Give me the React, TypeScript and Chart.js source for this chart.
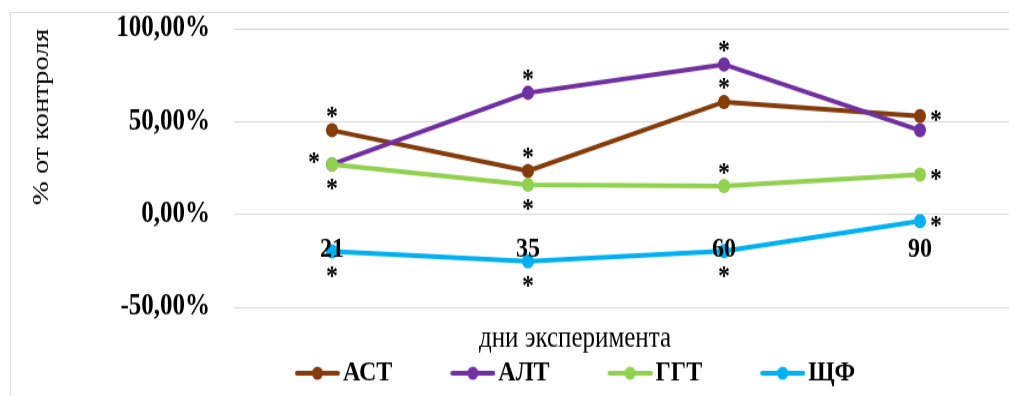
import React, { useEffect, useRef } from 'react';
import { Chart, registerables } from 'chart.js';

Chart.register(...registerables);

// Days of the experiment (category axis)
const days = ['21', '35', '60', '90'];

// Enzyme activity, % of control
const astValues = [45.3, 23.4, 60.6, 52.9];
const altValues = [27.0, 65.5, 80.8, 45.3];
const ggtValues = [27.0, 16.0, 15.3, 21.4];
const shfValues = [-20.0, -25.2, -19.8, -3.6];

const seriesNames = ['АСТ', 'АЛТ', 'ГГТ', 'ЩФ'];
const seriesColors = ['#843C0C', '#7030A0', '#92D050', '#00B0F0'];

// Where the significance mark "*" sits next to each point (null = no mark)
const astMarks = ['top', 'top', 'top', 'right'];
const altMarks = ['left', 'top', 'top', null];
const ggtMarks = ['bottom', 'bottom', 'top', 'right'];
const shfMarks = ['bottom', 'bottom', 'bottom', 'right'];

const yTicks = [-50, 0, 50, 100];
const yTitle = '% от контроля';
const xTitle = 'дни эксперимента';

const FONT = '"Liberation Serif", "Times New Roman", serif';
const CANVAS_W = 1140;
const CANVAS_H = 333;
const STRETCH_Y = 1.2;

const markSets = [astMarks, altMarks, ggtMarks, shfMarks];
const markOffsets: Record<string, [number, number]> = {
  top: [0, -15],
  bottom: [0, 17],
  right: [16, 0],
  left: [-18, -5],
};

const formatPct = (v: number) => `${v.toFixed(2).replace('.', ',')}%`;

// Legend symbol: a short line with a dot in the middle
function makeMarker(color: string) {
  const c = document.createElement('canvas');
  c.width = 54;
  c.height = 16;
  const g = c.getContext('2d')!;
  g.strokeStyle = color;
  g.lineWidth = 4;
  g.lineCap = 'round';
  g.beginPath();
  g.moveTo(11, 8);
  g.lineTo(52, 8);
  g.stroke();
  g.fillStyle = color;
  g.beginPath();
  g.arc(31.5, 8, 5.5, 0, Math.PI * 2);
  g.fill();
  return c;
}

// Draws "*" next to the points that differ significantly from control
const asteriskPlugin = {
  id: 'asterisks',
  afterDatasetsDraw(chart: any) {
    const ctx = chart.ctx as CanvasRenderingContext2D;
    ctx.save();
    ctx.font = `bold 24px ${FONT}`;
    ctx.fillStyle = '#000';
    ctx.textAlign = 'left';
    ctx.textBaseline = 'alphabetic';
    const m = ctx.measureText('*');
    const dx = (m.actualBoundingBoxRight - m.actualBoundingBoxLeft) / 2;
    const dy = (m.actualBoundingBoxDescent - m.actualBoundingBoxAscent) / 2;
    markSets.forEach((marks, di) => {
      const meta = chart.getDatasetMeta(di);
      marks.forEach((pos, i) => {
        if (!pos) return;
        const pt = meta.data[i];
        const [ox, oy] = markOffsets[pos];
        ctx.fillText('*', pt.x + ox - dx, pt.y + oy - dy);
      });
    });
    ctx.restore();
  },
};

export default function App() {
  const canvasRef = useRef<HTMLCanvasElement | null>(null);

  useEffect(() => {
    const canvas = canvasRef.current;
    if (!canvas) return;
    const markers = seriesColors.map(makeMarker);
    const values = [astValues, altValues, ggtValues, shfValues];

    const chart = new Chart(canvas, {
      type: 'line',
      data: {
        labels: days,
        datasets: values.map((data, i) => ({
          label: seriesNames[i],
          data,
          borderColor: seriesColors[i],
          backgroundColor: seriesColors[i],
          pointBackgroundColor: seriesColors[i],
          pointBorderWidth: 0,
          pointRadius: 6,
          pointHoverRadius: 6,
          borderWidth: 4,
          tension: 0,
          fill: false,
          order: values.length - 1 - i,
        })),
      },
      options: {
        responsive: false,
        maintainAspectRatio: false,
        animation: false,
        devicePixelRatio: 1,
        events: [],
        layout: { padding: { left: 10, top: 24, right: 0, bottom: 0 } },
        scales: {
          x: {
            type: 'category',
            position: { y: 0 } as any,
            offset: true,
            grid: { display: false, drawTicks: false },
            border: { display: false },
            ticks: {
              z: 1,
              padding: 15,
              color: '#000',
              autoSkip: false,
              maxRotation: 0,
              font: { family: FONT, size: 24, weight: 'bold' },
            },
          },
          y: {
            type: 'linear',
            position: 'left',
            min: yTicks[0],
            max: yTicks[yTicks.length - 1],
            afterBuildTicks: (s: any) => {
              s.ticks = yTicks.map((v) => ({ value: v }));
            },
            afterFit: (s: any) => {
              s.width = 224;
            },
            grid: {
              color: '#d9d9d9',
              lineWidth: 1,
              drawTicks: true,
              tickLength: 21,
              tickColor: 'rgba(0,0,0,0)',
            },
            border: { display: false },
            ticks: {
              padding: 3,
              color: '#000',
              font: { family: FONT, size: 25, weight: 'bold' },
              callback: (v: any) => formatPct(Number(v)),
            },
            title: {
              display: true,
              text: yTitle,
              align: 'end',
              color: '#000',
              font: { family: FONT, size: 24 },
              padding: { top: 17, bottom: 0 },
            },
          },
          // empty strip to the right of the plot area
          yRight: {
            type: 'linear',
            position: 'right',
            display: true,
            grid: { display: false, drawTicks: false },
            border: { display: false },
            ticks: { display: false },
            afterFit: (s: any) => {
              s.width = 122;
            },
          },
        },
        plugins: {
          tooltip: { enabled: false },
          legend: {
            position: 'bottom',
            align: 'center',
            labels: {
              usePointStyle: true,
              pointStyleWidth: 36,
              padding: 58,
              color: '#000',
              font: { family: FONT, size: 24, weight: 'bold' },
              sort: (a: any, b: any) => a.datasetIndex - b.datasetIndex,
              generateLabels: (ch: any) =>
                Chart.defaults.plugins.legend.labels
                  .generateLabels(ch)
                  .map((it: any) => ({
                    ...it,
                    pointStyle: markers[it.datasetIndex],
                    fontColor: '#000',
                    lineWidth: 0,
                  })),
            },
            title: {
              display: true,
              text: xTitle,
              color: '#000',
              font: { family: FONT, size: 25, lineHeight: 1.2 },
              padding: { top: 14, bottom: -59 },
            },
          },
        },
      } as any,
      plugins: [asteriskPlugin],
    });

    return () => chart.destroy();
  }, []);

  return (
    <div
      style={{
        position: 'fixed',
        left: 0,
        top: 0,
        width: 1009,
        height: 396,
        overflow: 'hidden',
        background: '#fff',
      }}
    >
      <div
        style={{
          position: 'absolute',
          left: 10,
          top: 12,
          width: 1100,
          height: 500,
          border: '1px solid #d9d9d9',
          boxSizing: 'border-box',
        }}
      />
      <div
        style={{
          position: 'absolute',
          left: 0,
          top: 0,
          width: CANVAS_W,
          height: CANVAS_H,
          transform: `scaleY(${STRETCH_Y})`,
          transformOrigin: '0 0',
        }}
      >
        <canvas ref={canvasRef} width={CANVAS_W} height={CANVAS_H} />
      </div>
    </div>
  );
}
